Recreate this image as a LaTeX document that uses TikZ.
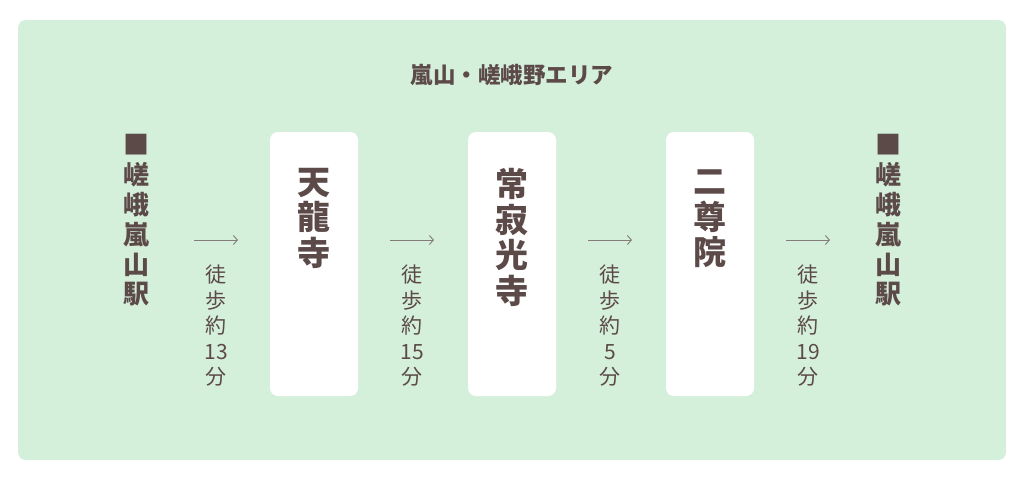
\documentclass[tikz,border=0pt]{standalone}
\usepackage{fontspec}
\newfontfamily\jp{Noto Sans CJK JP}
\usetikzlibrary{arrows.meta}
\definecolor{bg}{HTML}{D4F0DA}
\definecolor{ink}{HTML}{5C4A49}
\definecolor{arr}{HTML}{857B79}
\tikzset{
  title/.style={font=\jp\bfseries\fontsize{22.5}{24}\selectfont, text=ink, inner sep=0pt},
  station/.style={font=\jp\bfseries\fontsize{26}{29.8}\selectfont, text=ink, align=center, inner sep=0pt},
  temple/.style={font=\jp\bfseries\fontsize{33}{35.5}\selectfont, text=ink, align=center, inner sep=0pt},
  walk/.style={font=\jp\fontsize{21}{25.5}\selectfont, text=ink, align=center, inner sep=0pt},
  card/.style={fill=white, rounded corners=8pt},
  walkarrow/.style={draw=arr, line width=0.9pt, -{Straight Barb[length=4pt,width=9pt,line width=0.9pt]}}
}
\begin{document}
\begin{tikzpicture}[x=1pt,y=-1pt]
\useasboundingbox (0,0) rectangle (1024,480);
\fill[bg, rounded corners=8pt] (18,20) rectangle (1006,460);
\node[title] (ttl) at (512,75) {嵐山・嵯峨野エリア};
% cards
\fill[card] (270,132) rectangle (358,396);
\fill[card] (468,132) rectangle (556,396);
\fill[card] (666,132) rectangle (754,396);
% stations
\node[station] (s1) at (136,220.5) {■\\嵯\\峨\\嵐\\山\\駅};
\node[station] (s2) at (888,220.5) {■\\嵯\\峨\\嵐\\山\\駅};
% temples
\node[temple] (t1) at (314,218) {天\\龍\\寺};
\node[temple] (t2) at (512,237.5) {常\\寂\\光\\寺};
\node[temple] (t3) at (710,219) {二\\尊\\院};
% arrows
\coordinate (a1s) at (194,240); \coordinate (a1e) at (238,240);
\coordinate (a2s) at (390,240); \coordinate (a2e) at (434,240);
\coordinate (a3s) at (588,240); \coordinate (a3e) at (632,240);
\coordinate (a4s) at (786,240); \coordinate (a4e) at (830,240);
\draw[walkarrow] (a1s) -- (a1e);
\draw[walkarrow] (a2s) -- (a2e);
\draw[walkarrow] (a3s) -- (a3e);
\draw[walkarrow] (a4s) -- (a4e);
% walking times
\node[walk] (w1) at (216,326) {徒\\歩\\約\\13\\分};
\node[walk] (w2) at (412,326) {徒\\歩\\約\\15\\分};
\node[walk] (w3) at (610,326) {徒\\歩\\約\\5\\分};
\node[walk] (w4) at (808,326) {徒\\歩\\約\\19\\分};
\end{tikzpicture}
\end{document}
